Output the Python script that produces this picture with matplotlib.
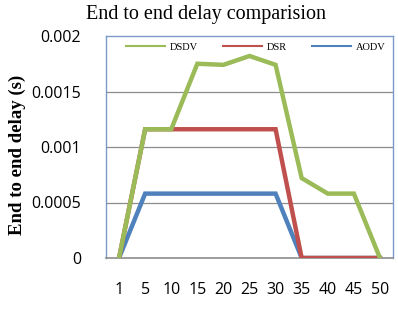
import matplotlib
matplotlib.use("Agg")
import matplotlib.pyplot as plt
from matplotlib.lines import Line2D

categories = ["1", "5", "10", "15", "20", "25", "30", "35", "40", "45", "50"]
dsdv = [0, 0.00116, 0.00116, 0.00175, 0.00174, 0.00182, 0.00174, 0.00072, 0.00058, 0.00058, 0]
dsr = [0, 0.00116, 0.00116, 0.00116, 0.00116, 0.00116, 0.00116, 0, 0, 0, 0]
aodv = [0, 0.00058, 0.00058, 0.00058, 0.00058, 0.00058, 0.00058, 0, 0, 0, 0]
yticks = [0, 0.0005, 0.001, 0.0015, 0.002]
ytick_labels = ["0", "0.0005", "0.001", "0.0015", "0.002"]

c_dsdv, c_dsr, c_aodv = "#9BBB59", "#C0504D", "#4F81BD"

fig = plt.figure(figsize=(3.98, 3.10), dpi=100)
ax = fig.add_axes([106/398, 1-258/310, (393-106)/398, (258-36)/310])

x = list(range(len(categories)))
ax.plot(x, aodv, color=c_aodv, lw=3.2, zorder=3, solid_joinstyle="miter")
ax.plot(x, dsr, color=c_dsr, lw=3.2, zorder=4, solid_joinstyle="miter")
ax.plot(x, dsdv, color=c_dsdv, lw=3.2, zorder=5, solid_joinstyle="miter")

ax.set_xlim(-0.5, len(categories) - 0.5)
ax.set_ylim(0, 0.002)
ax.set_yticks(yticks)
ax.set_yticklabels(ytick_labels)
ax.set_xticks(x)
ax.set_xticklabels(categories)
for t in ax.get_yticklabels() + ax.get_xticklabels():
    t.set_fontfamily("Open Sans")
    t.set_fontsize(11.5)
ax.tick_params(axis="both", length=0)
ax.tick_params(axis="y", pad=18)
ax.tick_params(axis="x", pad=17)

for yv in yticks[1:-1]:
    ax.axhline(yv, color="#8C8C8C", lw=0.9, zorder=1)

for s in ["left", "top", "right"]:
    ax.spines[s].set_color("#7A9AC8")
    ax.spines[s].set_linewidth(1.0)
ax.spines["bottom"].set_color("#8C8C8C")
ax.spines["bottom"].set_linewidth(1.2)

fig.text(206/398, 1-15/310, "End to end delay comparision", fontfamily="Liberation Serif",
         fontsize=14.5, ha="center", va="center")
fig.text(17/398, 1-155/310, "End to end delay (s)", fontfamily="Liberation Serif",
         fontweight="bold", fontsize=13.5, ha="center", va="center", rotation=90)

handles = [Line2D([], [], color=c_dsdv, lw=1.5),
           Line2D([], [], color=c_dsr, lw=1.5),
           Line2D([], [], color=c_aodv, lw=1.5)]
leg = fig.legend(handles, ["DSDV", "DSR", "AODV"],
                 loc="center", ncol=3, frameon=False,
                 prop={"family": "Liberation Serif", "size": 7.5},
                 handlelength=3.7, columnspacing=2.4, handletextpad=0.5,
                 bbox_to_anchor=(256/398, 1-47/310))

fig.savefig("out.png", dpi=100)
